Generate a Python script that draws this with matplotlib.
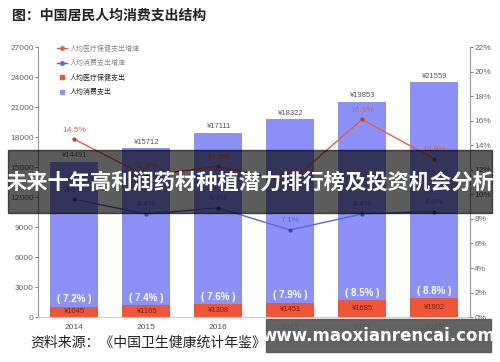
import matplotlib
matplotlib.use("Agg")
import matplotlib.pyplot as plt
from matplotlib.patches import Rectangle
from matplotlib.lines import Line2D
import numpy as np

plt.rcParams['font.family'] = ['Liberation Sans', 'Noto Sans CJK SC', 'DejaVu Sans']

# data
years = ["2014", "2015", "2016", "2017", "2018", "2019"]
consume = [14491, 15712, 17111, 18322, 19853, 21559]       # 人均消费支出
medical = [1045, 1165, 1308, 1451, 1685, 1902]             # 人均医疗保健支出
medical_share = [7.2, 7.4, 7.6, 7.9, 8.5, 8.8]             # 占比 %
medical_growth = [14.5, 11.5, 12.3, 11.0, 16.1, 12.9]      # 医疗保健支出增速 %
consume_growth = [9.6, 8.4, 8.9, 7.1, 8.4, 8.6]            # 消费支出增速 %
left_ticks = np.arange(0, 27001, 3000)
right_ticks = np.arange(0, 23, 2)

blue = "#8c91f7"
red = "#ef5537"
red_line = "#e85a45"
blue_line = "#5566e6"

fig = plt.figure(figsize=(5, 3.62), dpi=100)
ax = fig.add_axes([0.076, 0.124, 0.864, 0.746])
x = np.arange(len(years))
w = 0.667

ax.bar(x, medical, w, color=red, zorder=2)
ax.bar(x, consume, w, bottom=medical, color=blue, zorder=2)

for i in range(len(years)):
    top = medical[i] + consume[i]
    ax.text(x[i], top + 250, "¥%d" % consume[i], ha="center", va="bottom",
            fontsize=5.5, color="#555555", zorder=3)
    ax.text(x[i], medical[i] / 2, "¥%d" % medical[i], ha="center", va="center",
            fontsize=5.5, color="#7a2010", zorder=3)
    ax.text(x[i], medical[i] + 750, "( %.1f%% )" % medical_share[i], ha="center",
            va="center", fontsize=7, color="white", fontweight="bold", zorder=3)

ax.set_xlim(-0.5, 5.5)
ax.set_ylim(0, 27000)
ax.set_yticks(left_ticks)
ax.set_xticks(x)
ax.set_xticklabels(years)
ax.tick_params(axis="y", labelsize=6, colors="#666666", length=2, width=0.6, pad=1)
ax.tick_params(axis="x", labelsize=6, colors="#555555", length=0, pad=5)
ax.spines["top"].set_visible(False)
ax.spines["left"].set_color("#999999")
ax.spines["bottom"].set_color("#cccccc")
ax.spines["right"].set_visible(False)

ax2 = ax.twinx()
ax2.set_ylim(0, 22)
ax2.set_yticks(right_ticks)
ax2.set_yticklabels(["%d%%" % t for t in right_ticks])
ax2.tick_params(axis="y", labelsize=6, colors="#666666", length=2, width=0.6, pad=1)
for s in ["top", "left", "bottom"]:
    ax2.spines[s].set_visible(False)
ax2.spines["right"].set_color("#999999")

ax2.plot(x, medical_growth, color=red_line, lw=1, marker="o", markersize=3,
         markerfacecolor="#c0392b", markeredgewidth=0, zorder=4)
ax2.plot(x, consume_growth, color=blue_line, lw=1, marker="o", markersize=3,
         markerfacecolor="#3344bb", markeredgewidth=0, zorder=4)
for i in range(len(years)):
    ax2.text(x[i], medical_growth[i] + 0.45, "%.1f%%" % medical_growth[i], ha="center",
             va="bottom", fontsize=6, color=red_line, zorder=5)
    ax2.text(x[i], consume_growth[i] + 0.45, "%.1f%%" % consume_growth[i], ha="center",
             va="bottom", fontsize=6, color=blue_line, zorder=5)

handles = [
    Line2D([], [], color=red_line, lw=1, marker="o", markersize=2.5),
    Line2D([], [], color=blue_line, lw=1, marker="o", markersize=2.5),
    Line2D([], [], ls="none", marker="s", markersize=3, color=red),
    Line2D([], [], ls="none", marker="s", markersize=3, color=blue),
]
labels = ["人均医疗保健支出增速", "人均消费支出增速", "人均医疗保健支出", "人均消费支出"]
leg = ax2.legend(handles, labels, loc="upper left", bbox_to_anchor=(54 / 500, 1 - 42 / 362),
                 bbox_transform=fig.transFigure, frameon=False, fontsize=5,
                 handlelength=1.3, handletextpad=0.4, labelspacing=1.05, borderpad=0)
for t, c in zip(leg.get_texts(), ["#888888", "#888888", "#222222", "#222222"]):
    t.set_color(c)

# title and source
fig.text(12 / 500, 1 - 16 / 362, "图：中国居民人均消费支出结构", fontsize=10,
         fontweight="bold", color="#222222", ha="left", va="center")
fig.text(30 / 500, 1 - 343 / 362, "资料来源：《中国卫生健康统计年鉴》", fontsize=10,
         color="#222222", ha="left", va="center")

# overlay banner
fig.patches.append(Rectangle((8 / 500, 1 - 213 / 362), 484 / 500, 63 / 362,
                             transform=fig.transFigure, color="black", alpha=0.64,
                             zorder=10))
fig.text(0.5, 1 - 182 / 362, "未来十年高利润药材种植潜力排行榜及投资机会分析",
         fontsize=15.3, fontweight="bold", color="white", ha="center", va="center",
         zorder=11)

# watermark box
fig.patches.append(Rectangle((266 / 500, 1 - 352 / 362), 225 / 500, 33 / 362,
                             transform=fig.transFigure, color="#555555", alpha=0.92,
                             zorder=10))
fig.text(378 / 500, 1 - 336 / 362, "www.maoxianrencai.com", fontsize=12,
         fontweight="bold", color="white", ha="center", va="center",
         family="DejaVu Sans", zorder=11)

fig.savefig("out.png", dpi=100)
